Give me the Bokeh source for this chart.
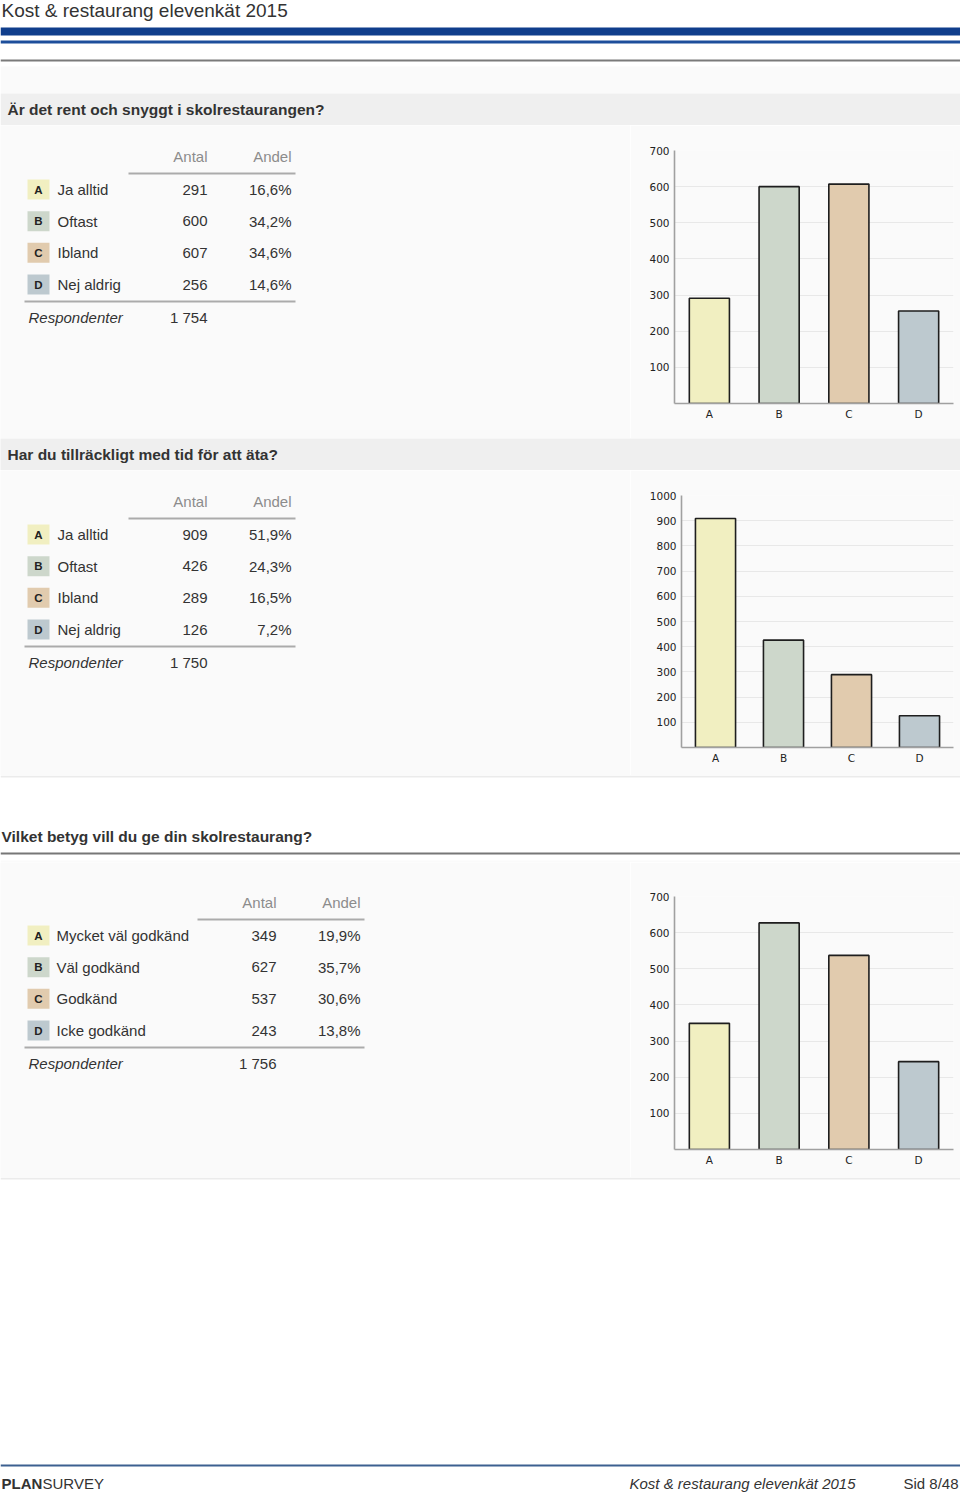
from bokeh.plotting import figure
from bokeh.models import Range1d, FactorRange, FixedTicker
from bokeh.layouts import column, row
from bokeh.embed import file_html
from bokeh.resources import INLINE
from bokeh.core.properties import value

# ---------------- data ----------------
page_title = "Kost & restaurang elevenkät 2015"
letters = ["A", "B", "C", "D"]
bar_colors = ["#f1efc1", "#cdd7cb", "#e1cbae", "#bdc9cf"]
col_headers = ["Antal", "Andel"]
resp_label = "Respondenter"

q1_title = "Är det rent och snyggt i skolrestaurangen?"
q1_labels = ["Ja alltid", "Oftast", "Ibland", "Nej aldrig"]
q1_counts = [291, 600, 607, 256]
q1_shares = [16.6, 34.2, 34.6, 14.6]
q1_resp = 1754
q1_ticks = [100, 200, 300, 400, 500, 600, 700]

q2_title = "Har du tillräckligt med tid för att äta?"
q2_labels = ["Ja alltid", "Oftast", "Ibland", "Nej aldrig"]
q2_counts = [909, 426, 289, 126]
q2_shares = [51.9, 24.3, 16.5, 7.2]
q2_resp = 1750
q2_ticks = [100, 200, 300, 400, 500, 600, 700, 800, 900, 1000]

q3_title = "Vilket betyg vill du ge din skolrestaurang?"
q3_labels = ["Mycket väl godkänd", "Väl godkänd", "Godkänd", "Icke godkänd"]
q3_counts = [349, 627, 537, 243]
q3_shares = [19.9, 35.7, 30.6, 13.8]
q3_resp = 1756
q3_ticks = [100, 200, 300, 400, 500, 600, 700]

footer_brand_bold = "PLAN"
footer_brand = "SURVEY"
footer_page = "Sid 8/48"

# ---------------- style ----------------
FONT = "Liberation Sans"
TXT = "#333333"
HDR = "#8c8c8c"
PANEL = "#fafafa"
BAND = "#efefef"
RULE = "#ababab"
X0, X1 = 0, 960
XS = 630
PLOT_RIGHT = 953


def fmt_pct(v):
    return f"{v:.1f}".replace(".", ",") + "%"


def fmt_n(n):
    return f"{n:,}".replace(",", " ")


def canvas(x0, x1, y0, y1, bg="#ffffff"):
    p = figure(width=x1 - x0, height=y1 - y0,
               x_range=Range1d(x0, x1), y_range=Range1d(y1, y0),
               output_backend="svg", toolbar_location=None,
               x_axis_location=None, y_axis_location=None,
               min_border=0, background_fill_color=bg, border_fill_color=bg,
               outline_line_color=None, frame_align=False)
    p.grid.visible = False
    return p


def txt(p, x, y, s, size=15, color=TXT, align="left", style="normal",
        font=FONT, baseline="middle"):
    p.text(x=[x], y=[y], text=[s], text_font=value(font),
           text_font_size=f"{size}px", text_color=color, text_align=align,
           text_baseline=baseline, text_font_style=style)


def rect(p, l, r, t, b, color):
    p.quad(left=[l], right=[r], top=[t], bottom=[b], fill_color=color,
           line_color=None)


def draw_table(p, labels, counts, shares, resp, hy, antal_r, andel_r, label_x):
    txt(p, antal_r, hy, col_headers[0], color=HDR, align="right")
    txt(p, andel_r, hy, col_headers[1], color=HDR, align="right")
    rect(p, antal_r - 79, andel_r + 4, hy + 16, hy + 18, RULE)
    for i in range(4):
        ry = hy + 33 + 31.67 * i
        rect(p, 27, 49, ry - 10, ry + 10, bar_colors[i])
        txt(p, 38, ry, letters[i], size=11.5, color="#222222", align="center",
            style="bold")
        txt(p, label_x, ry, labels[i])
        txt(p, antal_r, ry, str(counts[i]), align="right")
        txt(p, andel_r, ry, fmt_pct(shares[i]), align="right")
    rect(p, 24, andel_r + 4, hy + 144, hy + 146, RULE)
    txt(p, 28, hy + 161, resp_label, style="italic")
    txt(p, antal_r, hy + 161, fmt_n(resp), align="right")


def chart(counts, ticks, y0, y1, plot_left, plot_top, axis_y, bar_w):
    p = figure(width=X1 - XS, height=y1 - y0,
               x_range=FactorRange(factors=letters),
               y_range=Range1d(0, ticks[-1]),
               output_backend="svg", toolbar_location=None,
               min_border_left=plot_left - XS, min_border_right=X1 - PLOT_RIGHT,
               min_border_top=plot_top - y0, min_border_bottom=y1 - axis_y,
               background_fill_color=PANEL, border_fill_color=PANEL,
               outline_line_color=None, frame_align=False)
    p.vbar(x=letters, top=counts, width=bar_w, fill_color=bar_colors,
           line_color="#1e1e1e", line_width=1.6)
    p.xgrid.visible = False
    p.ygrid.grid_line_color = "#e8e8e8"
    p.ygrid.ticker = FixedTicker(ticks=ticks)
    p.yaxis.ticker = FixedTicker(ticks=ticks)
    for ax in (p.xaxis, p.yaxis):
        ax.axis_line_color = "#a0a0a0"
        ax.axis_line_width = 1.6
        ax.major_tick_line_color = None
        ax.minor_tick_line_color = None
        ax.major_tick_out = 0
        ax.major_tick_in = 0
        ax.major_label_text_font = "DejaVu Sans"
        ax.major_label_text_font_size = "10.5px"
        ax.major_label_text_color = "#222222"
    p.yaxis.major_label_standoff = 5
    p.xaxis.major_label_standoff = 4
    return p


# ---------------- header + band 1 (0..125) ----------------
fa = canvas(X0, X1, 0, 125)
txt(fa, 1, 10, page_title, size=19)
rect(fa, X0, X1, 27, 35, "#103e8c")
rect(fa, X0, X1, 40, 43, "#1d4e9b")
rect(fa, X0, X1, 59, 61, "#7a7a7a")
rect(fa, X0, X1, 66, 93, PANEL)
rect(fa, X0, X1, 93, 125, BAND)
txt(fa, 7, 109, q1_title, size=15.5, style="bold")

# ---------------- row 1 (125..438) ----------------
t1 = canvas(X0, XS, 125, 438, PANEL)
draw_table(t1, q1_labels, q1_counts, q1_shares, q1_resp, 156, 207, 291, 57)
c1 = chart(q1_counts, q1_ticks, 125, 438, 674, 150, 403, 0.575)

# ---------------- band 2 (438..470) ----------------
fb = canvas(X0, X1, 438, 470, BAND)
txt(fb, 7, 454, q2_title, size=15.5, style="bold")

# ---------------- row 2 (470..775) ----------------
t2 = canvas(X0, XS, 470, 775, PANEL)
draw_table(t2, q2_labels, q2_counts, q2_shares, q2_resp, 501, 207, 291, 57)
c2 = chart(q2_counts, q2_ticks, 470, 775, 681, 495, 747, 0.59)

# ---------------- heading 3 (775..862) ----------------
fc = canvas(X0, X1, 775, 862)
rect(fc, X0, X1, 775, 777, "#ebebeb")
txt(fc, 1, 836, q3_title, size=15.5, style="bold")
rect(fc, X0, X1, 852, 854, "#777777")
rect(fc, X0, X1, 860, 862, PANEL)

# ---------------- row 3 (862..1177) ----------------
t3 = canvas(X0, XS, 862, 1177, PANEL)
draw_table(t3, q3_labels, q3_counts, q3_shares, q3_resp, 902, 276, 360, 56)
c3 = chart(q3_counts, q3_ticks, 862, 1177, 674, 896, 1149, 0.575)

# ---------------- footer (1177..1493) ----------------
fd = canvas(X0, X1, 1177, 1493)
rect(fd, X0, X1, 1177, 1179, "#ebebeb")
rect(fd, X0, X1, 1464, 1466, "#3c6090")
txt(fd, 1, 1483, footer_brand_bold, style="bold")
txt(fd, 42, 1483, footer_brand)
txt(fd, 855, 1483, page_title, size=15, style="italic", align="right")
txt(fd, 958, 1483, footer_page, align="right")

page = column(fa, row(t1, c1, spacing=0), fb, row(t2, c2, spacing=0), fc,
              row(t3, c3, spacing=0), fd, spacing=0)

open("out.html", "w").write(file_html(page, INLINE))
